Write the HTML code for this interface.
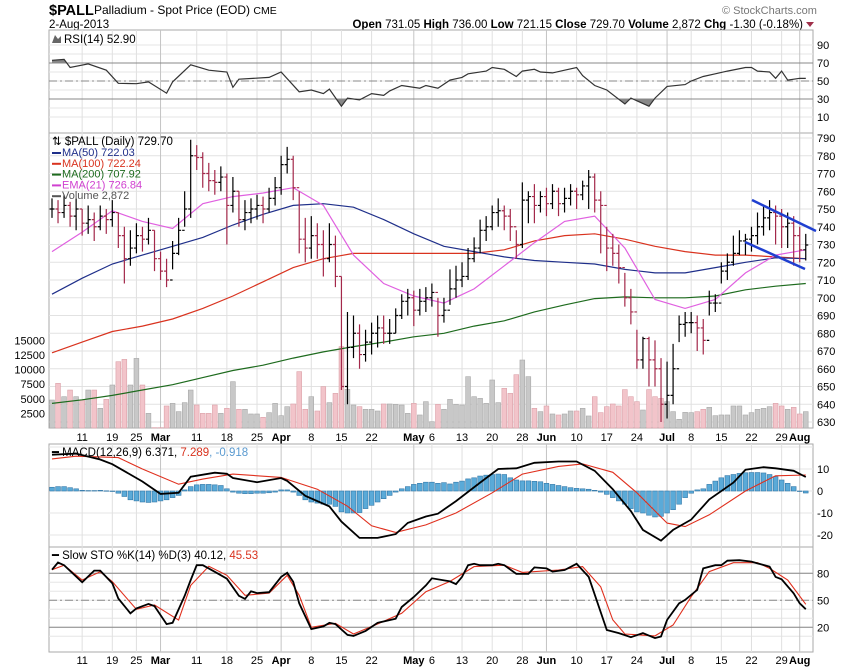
<!DOCTYPE html>
<html><head><meta charset="utf-8">
<style>
html,body{margin:0;padding:0;background:#fff;}
svg{display:block;font-family:"Liberation Sans",sans-serif;}
text{font-size:11px;fill:#000;}
</style></head>
<body>
<svg id="chart" width="850" height="668" viewBox="0 0 850 668" xmlns="http://www.w3.org/2000/svg">
<rect x="0" y="0" width="850" height="668" fill="#fff"/>
<g>
<text x="49" y="15" style="font-size:14.5px;font-weight:bold">$PALL</text>
<text x="94" y="14" style="font-size:12px">Palladium - Spot Price (EOD) <tspan style="font-size:10.5px">CME</tspan></text>
<text x="49" y="28" style="font-size:11.5px">2-Aug-2013</text>
<text x="722" y="14" style="font-size:11px;fill:#777">© StockCharts.com</text>
<text x="803" y="28" text-anchor="end" style="font-size:11.5px"><tspan font-weight="bold">Open</tspan> 731.05  <tspan font-weight="bold">High</tspan> 736.00  <tspan font-weight="bold">Low</tspan> 721.15  <tspan font-weight="bold">Close</tspan> 729.70  <tspan font-weight="bold">Volume</tspan> 2,872  <tspan font-weight="bold">Chg</tspan> -1.30 (-0.18%)</text>
<path d="M806,22 L814,22 L810,27 Z" fill="#a0304a"/>
</g>
<g id="grid"></g>
<g id="marks"></g>
<g id="labels"></g>
</svg>
<script>
// ---------- data ----------
const closes=[750,748,752,746,750,742,744,740,746,744,748,735,722,728,735,733,738,722,715,710,725,738,750,780,779,770,766,765,768,752,760,744,748,750,752,750,756,762,775,778,762,733,728,735,730,722,730,712,650,672,680,668,675,680,683,680,680,690,698,700,693,698,700,703,690,693,705,710,712,722,728,738,740,748,749,746,740,730,755,757,752,757,753,760,753,756,760,758,763,768,755,752,728,725,717,700,692,665,677,665,660,640,645,660,685,686,686,683,676,697,697,715,720,725,732,733,735,740,745,748,746,740,742,735,727,729.7];
const highs=[756,755,758,754,756,750,752,748,752,750,755,748,740,738,742,740,745,738,726,722,732,745,760,789,786,782,776,772,774,770,768,760,755,756,758,757,762,768,780,785,780,760,745,746,742,738,742,735,712,692,690,685,682,686,690,690,688,694,702,705,704,705,706,708,700,700,716,718,720,728,734,744,746,752,756,752,750,738,765,760,764,760,762,764,762,762,764,762,766,772,770,760,740,736,730,714,705,682,678,678,676,666,664,674,690,692,692,690,688,704,702,720,725,735,738,736,740,748,752,755,752,750,748,746,740,736];
const lows=[745,742,745,740,738,735,736,732,738,736,740,728,708,718,725,726,730,715,710,706,716,724,740,745,772,762,760,758,760,730,748,740,738,742,744,742,748,752,758,770,755,725,720,722,722,712,720,706,648,640,666,660,664,668,672,674,674,680,688,690,684,690,692,695,678,686,696,700,706,710,720,725,732,738,740,738,732,722,728,742,742,748,746,750,746,748,752,750,755,750,748,725,715,718,708,695,685,660,660,650,650,630,632,640,675,678,680,670,668,690,692,708,710,718,724,724,726,730,735,738,730,728,728,718,720,721];
const volumes=[4790,7650,5360,6500,5360,4790,6500,6500,3370,4900,7360,11350,11750,7360,11920,7360,2510,60,60,3770,4220,2800,4340,6500,3940,2510,2510,3940,2510,3370,7930,3200,3200,2400,2400,1830,2630,4220,2110,3650,4110,9650,3200,5360,2910,7080,4340,5930,13930,6620,3940,3650,3200,3200,2910,4110,4110,4050,3940,2510,4220,2230,4510,1080,
4050,3200,4900,4050,3940,8790,5360,5070,4220,8220,4340,6790,5930,9130,11640,8790,3370,2800,3770,2400,2230,2400,2910,2910,3370,2060,5360,2630,3650,4110,3770,6570,5360,4510,3080,6570,5360,5070,4510,2800,1490,2680,2630,2800,3200,3540,2110,2230,2230,3770,3770,2230,2630,3200,3370,3650,4220,3770,3200,3540,2400,2800];
// moving averages sampled weekly (every 5 trading days)
const maDays=[0,5,10,15,20,25,30,35,40,45,50,55,60,65,70,75,80,85,90,95,100,105,110,115,120,125];
const ma50=[702,711,719,724,729,734,741,747,752,753,751,744,736,729,726,723,721,720,719,716,714,714,717,720,722.5,722];
const ma100=[669,675,681,684,688,694,701,709,717,722,725,725,725,725,725,727,732,735,736,733,729,726,724,724,723,722];
const ma200=[640.5,642.5,645,648,651,655,659,662,666,669.5,672.5,675,678,680,684,687,692,696,699.5,700.5,700,700,701,704.5,706.5,708];
const ema21=[726,737,749,743,739,753,757,759,762,752,724,708,701,697,705,718,731,743,746,728,699,694,699,714,724,727];
// RSI
const rsiDays=[0,2,3,6,9,11,14,16,19,20,23,26,29,30,31,36,38,41,43,45,46,48,49,51,53,55,56,58,61,62,64,66,68,69,72,73,75,77,78,80,81,83,85,87,88,90,92,95,96,99,100,102,105,106,108,110,112,115,116,117,119,120,121,122,124,125];
const rsiVals=[73,74,65,69,62,47.5,47,49,36.5,49,68,62,60,43,52,54,60,38,40,36,41,22,31,29,36,34,39,45,42,45,42,51,54,58,61,65,63,55,61,63,60,59,62,65,56,45,40,24.5,31,22,31,44,46,50,55,58,61,65,65,61,60,53,61,51,53,52.9];
// MACD
const macdDays=[0,4,8,10,15,18,21,23,27,29,30,34,38,39,42,46,48,51,54,57,59,62,64,67,71,74,77,80,84,87,90,93,96,98,101,103,106,109,113,115,118,120,123,125];
const macdVals=[16.5,17,14.3,12.2,4.3,-1.3,-0.8,6.5,8.3,7.8,5.9,4,5.9,4.6,-2.2,-7,-13.9,-21.3,-21.3,-19.6,-14.5,-11.6,-10.3,-4.6,3.8,10,10.3,12.8,13.4,13.4,9.2,0.8,-9.2,-17.7,-22.6,-17.7,-13,-3.8,3.8,9.7,10.8,10.3,9.2,6.371];
const sigDays=[0,4,11,15,21,25,30,38,44,49,53,57,62,67,73,78,84,88,93,97,102,105,109,115,120,125];
const sigVals=[14.6,15.8,15.2,10,3.1,5.4,7.7,6.2,0.8,-6.9,-15.8,-18.8,-15.4,-10,-0.8,7.7,11.2,12.3,8.5,-0.8,-14.6,-16.2,-10.8,0,6.9,7.289];
const histVals=[1.7,2,2,1.5,1,0.3,0.2,0.2,0.3,0.1,0,-1,-2.5,-4,-4.5,-5,-5.2,-5,-4.5,-4,-3,-2,0.5,2,2.8,3,3,2.8,2.5,1,-0.5,-1,-1.2,-1.2,-1,-1,-0.8,-0.5,0.5,0.5,-0.5,-2,-4,-5,-5.5,-6,-6,-7,-9.5,-10,-10,-9.8,-8,-6.5,-5,-3.5,-2,-0.5,1,2,3,3.5,4,4,3.5,3.8,3.2,4,4.5,5.5,6,6.8,7.2,7.5,7.7,7.5,6,5,4.6,4.6,4.4,4.2,3.5,3,2.5,2,1.5,1.2,1,0.8,0.3,-0.5,-1.5,-3,-4.5,-6,-8,-9.5,-10,-11,-11.8,-11.5,-10,-8.5,-6,-3,-1,0.5,1,3,4.5,6,7,7.5,8,8.3,8.4,8.4,8.2,7.5,6.5,5,3.5,2,0,-0.918];
// Slow stochastics
const kDays=[0,1,2,5,7,8,10,11,13,14,16,17,19,20,22,23,24,25,27,29,31,32,33,34,36,38,39,40,41,43,45,46,47,49,50,52,54,57,58,60,62,63,66,67,68,69,70,71,73,74,75,77,79,80,82,83,85,87,89,92,94,96,98,100,101,102,104,105,107,108,110,111,112,114,116,117,119,120,121,123,124,125];
const kVals=[84,92,89,70,83,83,69,52,35.5,41,46,43.5,23.6,25,55,72.6,89,89,81.7,74,55,51.6,60,58,59,76,80.7,70.7,46.7,18,21,25,23.6,11.5,10.4,16,25,29.6,42.6,53.7,66.6,74.4,71,68,76,89,90.6,89,89,90.6,89,79.3,79.3,86.6,85.4,81.9,83.7,90.6,76,17,13.5,9,13.5,8,9.8,28.2,46.7,50.4,61.5,85.4,89,89,94,94.6,93,91,87.4,76,73.3,57.7,46.7,40.12];
const dDays=[0,2,5,8,10,14,17,21,23,26,29,32,36,39,41,43,47,50,54,58,62,66,70,75,78,84,88,91,93,95,100,103,106,109,113,117,119,122,125];
const dVals=[84,89,72.6,81.7,70.7,40,44.8,28,66.6,87.8,77.8,55.6,58,77.8,55.6,20,24.5,12.6,23.7,35.5,59.6,71,87.4,89,81,83.7,87.4,65,28.2,12.6,10.4,22.6,54,81.9,91.8,91.8,85.4,72.6,45.53];
// axes
const dateDays=[5,10,14,18,24,29,34,38,43,48,53,60,63,68,73,78,82,87,92,97,102,106,111,116,121,124];
const dateLabels=["11","19","25","Mar","11","18","25","Apr","8","15","22","May","6","13","20","28","Jun","10","17","24","Jul","8","15","22","29","Aug"];
const priceTicks=[790,780,770,760,750,740,730,720,710,700,690,680,670,660,650,640,630];
const volTicks=[2500,5000,7500,10000,12500,15000];
const rsiTicks=[90,70,50,30,10];
const macdTicks=[10,0,-10,-20];
const stoTicks=[80,50,20];

// ---------- scales ----------
const L=49,R=813;
const X=d=>52+d*6.03;
const Yp=p=>138+(790-p)*1.775;
const Yv=v=>428-v*14.6/2500;
const Yr=v=>81-(v-50)*0.9;
const Ym=v=>491-v*2.2;
const Ys=v=>645.3-0.9*v;
const NS="http://www.w3.org/2000/svg";
const grid=document.getElementById('grid'),marks=document.getElementById('marks'),labels=document.getElementById('labels');
function mk(tag,attrs,parent){const e=document.createElementNS(NS,tag);for(const k in attrs)e.setAttribute(k,attrs[k]);parent.appendChild(e);return e;}
function pts(days,vals,fy){return days.map((d,i)=>X(d).toFixed(1)+','+fy(vals[i]).toFixed(1)).join(' ');}

// ---------- panels & grid ----------
const panels=[["rsi-panel",30,133],["price-panel",133,428],["macd-panel",444,547],["sto-panel",547,652]];
panels.forEach(p=>{
  const r=mk('rect',{x:L,y:p[1],width:R-L,height:p[2]-p[1],fill:'#fff',stroke:'#aaa','stroke-width':1},grid);
  
  
});
for(let v=10;v<=90;v+=10){const l=mk('line',{x1:L,x2:R,y1:Yr(v),y2:Yr(v),stroke:'#e6e6e6'},grid);}
priceTicks.forEach(v=>{const l=mk('line',{x1:L,x2:R,y1:Yp(v),y2:Yp(v),stroke:'#e2e2e2'},grid);});
[20,10,0,-10,-20].forEach(v=>{const l=mk('line',{x1:L,x2:R,y1:Ym(v),y2:Ym(v),stroke:'#e6e6e6'},grid);});
for(let v=10;v<=90;v+=10){const l=mk('line',{x1:L,x2:R,y1:Ys(v),y2:Ys(v),stroke:'#e6e6e6'},grid);}
dateDays.forEach((d,i)=>{
  const month=/[A-Z]/.test(dateLabels[i]);
  [[30,428],[444,652]].forEach(s=>{
    const l=mk('line',{x1:X(d),x2:X(d),y1:s[0],y2:s[1],stroke:month?'#c4c4c4':'#e0e0e0'},grid);
    
    
  });
});
[[70,'solid'],[50,'dash'],[30,'solid']].forEach(a=>{const l=mk('line',{x1:L,x2:R,y1:Yr(a[0]),y2:Yr(a[0]),stroke:'#888','stroke-dasharray':a[1]=='dash'?'8,3,2,3':'none'},grid);});
[[80,'solid'],[50,'dash'],[20,'solid']].forEach(a=>{const l=mk('line',{x1:L,x2:R,y1:Ys(a[0]),y2:Ys(a[0]),stroke:'#888','stroke-dasharray':a[1]=='dash'?'8,3,2,3':'none'},grid);});

// ---------- RSI ----------
const defs=mk('defs',{},marks);
const c1=mk('clipPath',{id:'above70'},defs);mk('rect',{x:L,y:30,width:R-L,height:Yr(70)-30},c1);
const c2=mk('clipPath',{id:'below30'},defs);mk('rect',{x:L,y:Yr(30),width:R-L,height:133-Yr(30)},c2);
const rl=pts(rsiDays,rsiVals,Yr);
const x0=X(rsiDays[0]),x1=X(rsiDays[rsiDays.length-1]);
const s1=mk('polygon',{points:rl+' '+x1+','+Yr(70)+' '+x0+','+Yr(70),fill:'#888','clip-path':'url(#above70)'},marks);


const s2=mk('polygon',{points:rl+' '+x1+','+Yr(30)+' '+x0+','+Yr(30),fill:'#888','clip-path':'url(#below30)'},marks);


const rline=mk('polyline',{points:rl,fill:'none',stroke:'#333','stroke-width':1.2},marks);



// ---------- volume ----------
volumes.forEach((v,i)=>{
  const down=i>0&&closes[i]<closes[i-1];
  const b=mk('rect',{x:X(i)-2.4,y:Yv(v),width:4.8,height:428-Yv(v),fill:down?'#f2c4ca':'#c8c8c8',stroke:down?'#dba0a8':'#a8a8a8','stroke-width':0.6},marks);
  
  
});
// ---------- moving averages ----------
[[ma200,'#1e6b1e','ma200-line'],[ma100,'#d9331f','ma100-line'],[ma50,'#1f2f8a','ma50-line'],[ema21,'#e060e0','ema21-line']].forEach(m=>{
  const l=mk('polyline',{points:pts(maDays,m[0],Yp),fill:'none',stroke:m[1],'stroke-width':1.2},marks);
  
  
});
// ---------- price bars ----------
closes.forEach((c,i)=>{
  const o=i>0?closes[i-1]:c;
  const col=(i>0&&c<closes[i-1])?'#a3284a':'#000';
  const x=X(i);
  const g=mk('path',{d:`M${x},${Yp(highs[i])}V${Yp(lows[i])}M${x-2.5},${Yp(o)}H${x}M${x},${Yp(c)}H${x+2.5}`,stroke:col,'stroke-width':1.2,fill:'none'},marks);
  
  
});
const t1=mk('line',{x1:752,y1:200,x2:816,y2:231,stroke:'#1f3fd0','stroke-width':2.5},marks);


const t2=mk('line',{x1:745,y1:242,x2:805,y2:269,stroke:'#1f3fd0','stroke-width':2.5},marks);



// ---------- MACD ----------
histVals.forEach((v,i)=>{
  const y=Math.min(Ym(v),Ym(0)),h=Math.abs(Ym(v)-Ym(0));
  const b=mk('rect',{x:X(i)-2.4,y:y,width:4.8,height:Math.max(h,0.5),fill:'#5aaad8',stroke:'#3478a8','stroke-width':0.6},marks);
  
  
});
const sl=mk('polyline',{points:pts(sigDays,sigVals,Ym),fill:'none',stroke:'#e0301e','stroke-width':1.1},marks);


const ml=mk('polyline',{points:pts(macdDays,macdVals,Ym),fill:'none',stroke:'#000','stroke-width':1.8},marks);


// ---------- STO ----------
const dl=mk('polyline',{points:pts(dDays,dVals,Ys),fill:'none',stroke:'#e0301e','stroke-width':1.1},marks);


const kl=mk('polyline',{points:pts(kDays,kVals,Ys),fill:'none',stroke:'#000','stroke-width':1.8},marks);



// ---------- axis labels ----------
function txt(x,y,s,name,extra){const t=mk('text',Object.assign({x:x,y:y},extra||{}),labels);t.textContent=s;return t;}
rsiTicks.forEach(v=>txt(817,Yr(v)+4,String(v),'rsi-axis-label'));
priceTicks.forEach(v=>txt(817,Yp(v)+4,String(v),'price-axis-label'));
volTicks.forEach(v=>txt(45,Yv(v)+4,String(v),'volume-axis-label',{'text-anchor':'end'}));
macdTicks.forEach(v=>txt(817,Ym(v)+4,String(v),'macd-axis-label'));
stoTicks.forEach(v=>txt(817,Ys(v)+4,String(v),'sto-axis-label'));
dateDays.forEach((d,i)=>{
  const month=/[A-Z]/.test(dateLabels[i]);
  [441,664].forEach(y=>{
    const t=txt(X(d),y,dateLabels[i],'date-axis-label',{'text-anchor':'middle'});
    if(month)t.setAttribute('font-weight','bold');
  });
});
txt(64,43,'RSI(14) 52.90','rsi-legend',{style:'font-size:11.5px'});
mk('path',{d:'M52,43 L55,35 L58,39 L61,36 L61,43 Z',fill:'#666'},labels);
txt(52,145,'\u21c5 $PALL (Daily) 729.70','price-legend',{style:'font-size:11.5px'});
const leg=[['MA(50) 722.03','#1f2f8a'],['MA(100) 722.24','#d9331f'],['MA(200) 707.92','#1e6b1e'],['EMA(21) 726.84','#d040d0'],['Volume 2,872','#555']];
leg.forEach((l,i)=>{
  const y=156+i*10.8;
  const ln=mk('rect',{x:52,y:y-4,width:9,height:2,fill:l[1]},labels);
  
  
  txt(62,y,l[0],'legend-entry',{style:'font-size:11px;fill:'+l[1]});
});
const mt=txt(52,456,'','macd-legend',{style:'font-size:11.5px'});
mt.innerHTML='<tspan>\u2501 MACD(12,26,9) 6.371, </tspan><tspan style="fill:#d9331f">7.289</tspan><tspan style="fill:#5a9ad0">, -0.918</tspan>';
const st=txt(52,559,'','sto-legend',{style:'font-size:11.5px'});
st.innerHTML='<tspan>\u2501 Slow STO %K(14) %D(3) 40.12, </tspan><tspan style="fill:#d9331f">45.53</tspan>';
</script>
</body></html>
